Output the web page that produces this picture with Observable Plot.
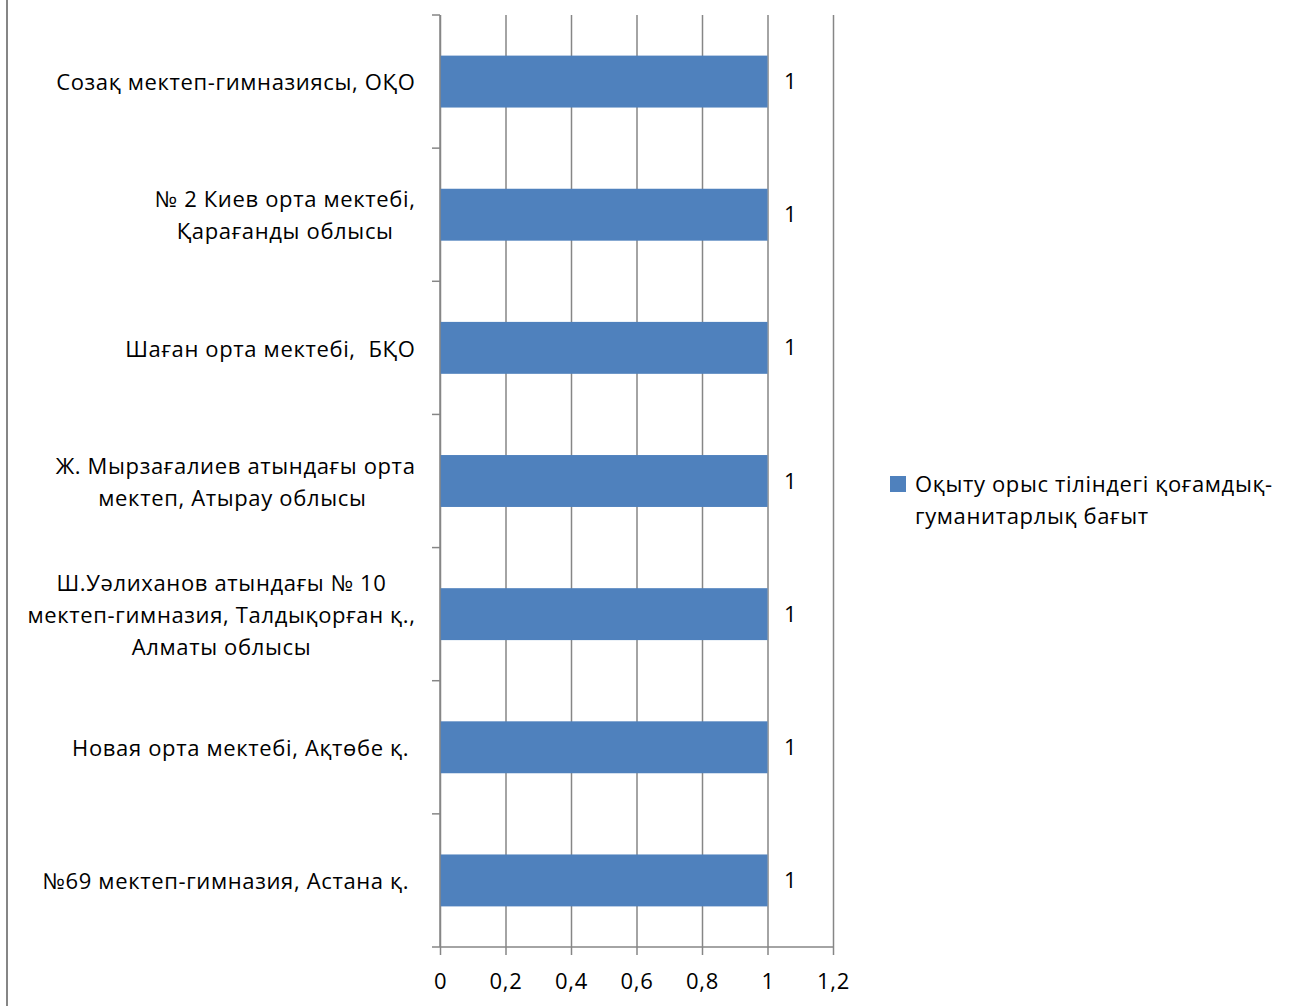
<!DOCTYPE html>
<html>
<head>
<meta charset="utf-8">
<script src="https://cdn.jsdelivr.net/npm/d3@7"></script>
<script src="https://cdn.jsdelivr.net/npm/@observablehq/plot@0.6"></script>
<style>
  html, body { margin: 0; padding: 0; background: #fff; }
  #chart svg text { white-space: pre; letter-spacing: 0.65px; }
</style>
</head>
<body>
<div id="chart"></div>
<script>
const categories = [
  "Созақ мектеп-гимназиясы, ОҚО",
  "№ 2 Киев орта мектебі,\nҚарағанды облысы",
  "Шаған орта мектебі,  БҚО",
  "Ж. Мырзағалиев атындағы орта\nмектеп, Атырау облысы ",
  "Ш.Уәлиханов атындағы № 10\nмектеп-гимназия, Талдықорған қ.,\nАлматы облысы",
  "Новая орта мектебі, Ақтөбе қ. ",
  "№69 мектеп-гимназия, Астана қ. "
];
const values = [1, 1, 1, 1, 1, 1, 1];
const xTicks = [0, 0.2, 0.4, 0.6, 0.8, 1, 1.2];
const seriesName = ["Оқыту орыс тіліндегі қоғамдық-", "гуманитарлық бағыт"];

const FONT = "'Open Sans', sans-serif";
const FS = 22;
const BAR = "#4F81BD";
const GRID = "#868686";

const data = categories.map((c, i) => ({category: c, value: values[i]}));
const fmt = d => String(d).replace(".", ",");

const plot = Plot.plot({
  width: 1290,
  height: 1006,
  marginLeft: 440,
  marginRight: 457,
  marginTop: 15,
  marginBottom: 59,
  style: {fontFamily: FONT, fontSize: FS + "px", color: "#000", background: "#fff", overflow: "visible"},
  x: {domain: [0, 1.2]},
  y: {domain: categories, paddingInner: 0.61, paddingOuter: 0.305, round: false},
  marks: [
    Plot.gridX(xTicks, {stroke: GRID, strokeOpacity: 1, strokeWidth: 1.5}),
    Plot.barX(data, {x: "value", y: "category", fill: BAR}),
    Plot.text(data, {x: "value", y: "category", text: d => fmt(d.value), textAnchor: "start", dx: 16, fill: "#000", fontSize: FS}),
    Plot.axisX(xTicks, {tickSize: 8, tickPadding: 18, tickFormat: fmt, stroke: GRID, strokeOpacity: 1, strokeWidth: 1.5, fill: "#000", fontSize: FS, label: null}),
    Plot.axisY({tickSize: 0, tickPadding: 25, fill: "#000", fontSize: FS, lineHeight: 32 / FS, label: null})
  ]
});

document.getElementById("chart").appendChild(plot);

const svg = d3.select(plot);
const xs = plot.scale("x");
const ys = plot.scale("y");
const x0 = xs.apply(0);
const x1 = xs.apply(1.2);
const bounds = categories.map(c => ys.apply(c) + ys.bandwidth / 2 - ys.step / 2);
bounds.push(ys.apply(categories[categories.length - 1]) + ys.bandwidth / 2 + ys.step / 2);

// center multi-line category labels like the original
svg.selectAll('g[aria-label="y-axis tick label"] text').each(function () {
  const w = this.getBBox().width;
  this.setAttribute("text-anchor", "middle");
  const old = this.getAttribute("transform") || "";
  this.setAttribute("transform", (old + ` translate(${-w / 2},-2)`).trim());
});

const g = svg.append("g");
g.append("line").attr("x1", x0).attr("x2", x0).attr("y1", bounds[0]).attr("y2", bounds[bounds.length - 1])
  .attr("stroke", GRID).attr("stroke-width", 1.5);
g.selectAll(".bt").data(bounds).join("line")
  .attr("x1", x0 - 8).attr("x2", x0).attr("y1", d => d).attr("y2", d => d)
  .attr("stroke", GRID).attr("stroke-width", 1.5);
g.append("line").attr("x1", x0).attr("x2", x1).attr("y1", bounds[bounds.length - 1]).attr("y2", bounds[bounds.length - 1])
  .attr("stroke", GRID).attr("stroke-width", 1.5);
g.append("line").attr("x1", 7).attr("x2", 7).attr("y1", 0).attr("y2", 1006)
  .attr("stroke", GRID).attr("stroke-width", 2);

// legend
const lg = svg.append("g").attr("font-family", FONT).attr("font-size", FS).attr("text-anchor", "start");
lg.append("rect").attr("x", 890).attr("y", 476).attr("width", 16).attr("height", 16).attr("fill", BAR);
const lt = lg.append("text").attr("x", 915).attr("y", 492).attr("fill", "#000").attr("text-anchor", "start");
seriesName.forEach((s, i) => {
  lt.append("tspan").attr("x", 915).attr("dy", i === 0 ? 0 : 32).text(s);
});
</script>
</body>
</html>
